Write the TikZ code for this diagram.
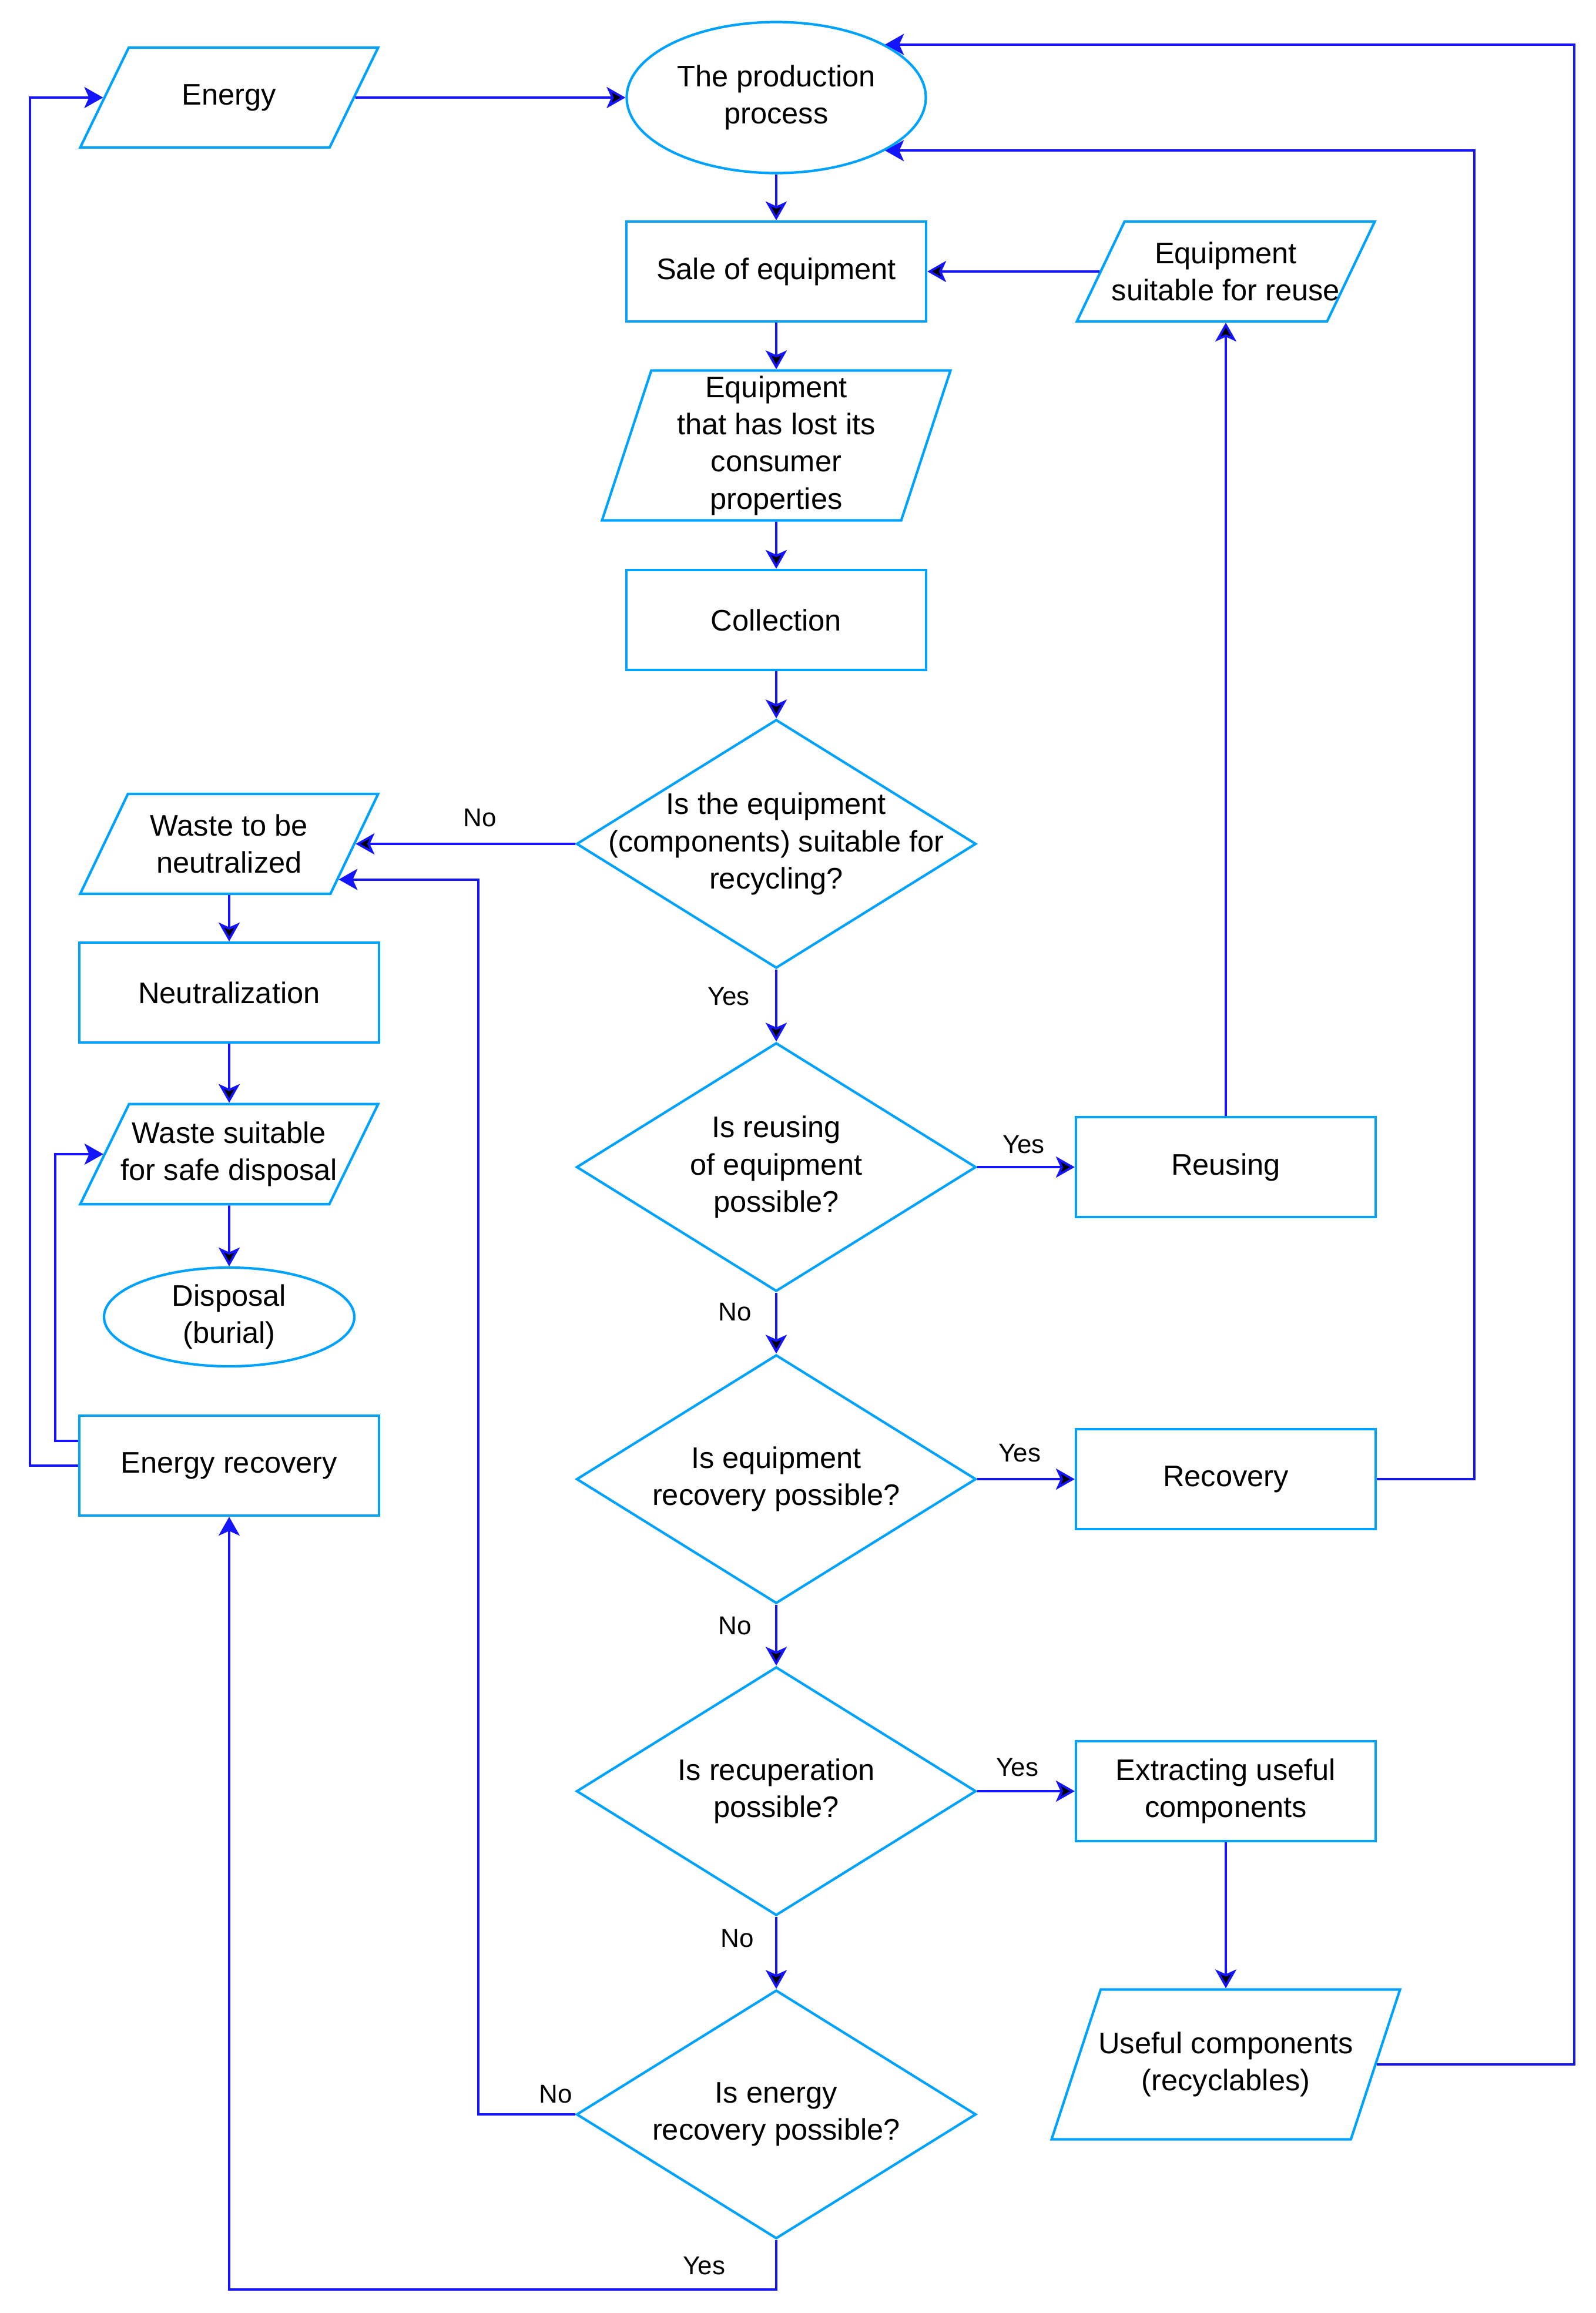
\documentclass[tikz,border=0pt]{standalone}
\usepackage{fontspec}
\setmainfont{Liberation Sans}
\usetikzlibrary{positioning,shapes.geometric,arrows.meta}

\definecolor{boxblue}{RGB}{0,162,255}
\definecolor{linkblue}{RGB}{20,20,255}

\begin{document}
\begin{tikzpicture}[on grid,
		txt/.style={align=center, font=\fontsize{14.4}{18}\selectfont},
		box/.style={txt, draw=boxblue, line width=1.2pt, minimum width=5.1cm, minimum height=1.7cm},
		io/.style={box, trapezium, trapezium left angle=64, trapezium right angle=116, trapezium stretches body=true, minimum width=5.07cm, inner xsep=-0.25cm, inner ysep=0.33cm},
		tallio/.style={io, trapezium left angle=71.8, trapezium right angle=108.2, minimum width=5.93cm, minimum height=2.55cm, inner ysep=0.09cm},
		term/.style={box, ellipse, inner sep=0pt},
		ask/.style={box, diamond, minimum width=6.8cm, minimum height=4.23cm, inner sep=0pt},
		arr/.style={draw=linkblue, line width=1.1pt, -{Stealth[length=3.2mm,width=3.6mm,inset=0.8mm]}},
		lbl/.style={font=\fontsize{12.5}{15}\selectfont, inner sep=0pt}]
	\useasboundingbox (0,0) rectangle (27.16,-39.36);
	% main column
	\node[term, minimum width=5.09cm, minimum height=2.57cm] (prod) at (13.21,-1.66) {The production\\process};
	\node[box] (sale) [below=2.96cm of prod] {Sale of equipment};
	\node[tallio] (lost) [below=2.96cm of sale] {Equipment\\that has lost its\\consumer\\properties};
	\node[box] (collect) [below=2.97cm of lost] {Collection};
	\node[ask, label={[txt]center:Is the equipment\\(components) suitable for\\recycling?}] (dec1) [below=3.81cm of collect] {};
	\node[ask, label={[txt]center:Is reusing\\of equipment\\possible?}] (dec2) [below=5.5cm of dec1] {};
	\node[ask, label={[txt]center:Is equipment\\recovery possible?}] (dec3) [below=5.31cm of dec2] {};
	\node[ask, label={[txt]center:Is recuperation\\possible?}] (dec4) [below=5.31cm of dec3] {};
	\node[ask, label={[txt]center:Is energy\\recovery possible?}] (dec5) [below=5.5cm of dec4] {};
	% left column
	\node[io, inner ysep=0.62cm] (energy) [left=9.31cm of prod] {Energy};
	\node[io] (waste) [left=9.31cm of dec1] {Waste to be\\neutralized};
	\node[box] (neutral) [below=2.53cm of waste] {Neutralization};
	\node[io, inner ysep=0.3cm] (safe) [below=2.75cm of neutral] {Waste suitable\\for safe disposal};
	\node[term, minimum width=4.26cm, minimum height=1.68cm] (disposal) [below=2.77cm of safe] {Disposal\\(burial)};
	\node[box] (erec) [below=2.53cm of disposal] {Energy recovery};
	% right column
	\node[io] (reuse) [right=7.65cm of sale] {Equipment\\suitable for reuse};
	\node[box] (reusing) [right=7.65cm of dec2] {Reusing};
	\node[box] (recovery) [right=7.65cm of dec3] {Recovery};
	\node[box] (extract) [right=7.65cm of dec4] {Extracting useful\\components};
	\node[tallio, inner ysep=0.72cm] (useful) [below=4.65cm of extract] {Useful components\\(recyclables)};
	% rails for the return lines
	\coordinate (railL) at (0.51,0);
	\coordinate (railLi) at (0.94,0);
	\coordinate (railA) at (8.14,0);
	\coordinate (railR1) at (25.09,0);
	\coordinate (railR2) at (26.79,0);
	\coordinate (floor) at (0,-38.96);

	\path[arr]
		(energy) edge (prod)
		(prod) edge (sale)
		(sale) edge (lost)
		(lost) edge (collect)
		(collect) edge (dec1)
		(dec1) edge node[lbl, pos=0.435, yshift=4.4mm] {No} (waste)
		(dec1) edge node[lbl, pos=0.374, xshift=-8.1mm] {Yes} (dec2)
		(dec2) edge node[lbl, pos=0.476, yshift=3.8mm] {Yes} (reusing)
		(dec2) edge node[lbl, pos=0.32, xshift=-7mm] {No} (dec3)
		(dec3) edge node[lbl, pos=0.435, yshift=4.4mm] {Yes} (recovery)
		(dec3) edge node[lbl, pos=0.35, xshift=-7mm] {No} (dec4)
		(dec4) edge node[lbl, pos=0.41, yshift=4mm] {Yes} (extract)
		(dec4) edge node[lbl, pos=0.3, xshift=-6.6mm] {No} (dec5)
		(waste) edge (neutral)
		(neutral) edge (safe)
		(safe) edge (disposal)
		(reusing) edge (reuse)
		(reuse) edge (sale)
		(extract) edge (useful);

	\draw[arr] (dec5.west) -- node[lbl, pos=0.2, yshift=3.4mm] {No} (railA |- dec5.west) |- (waste.-18);
	\draw[arr] (dec5.south) |- node[lbl, pos=0.566, yshift=4mm] {Yes} (erec |- floor) -- (erec);
	\draw[arr] (erec.west) -| (railL |- energy) -- (energy);
	\draw[arr] ([yshift=4.2mm]erec.west) -| (railLi |- safe) -- (safe);
	\draw[arr] (recovery) -| (railR1 |- prod.-26) -- (prod.-26);
	\draw[arr] (useful) -| (railR2 |- prod.26) -- (prod.26);
\end{tikzpicture}
\end{document}
